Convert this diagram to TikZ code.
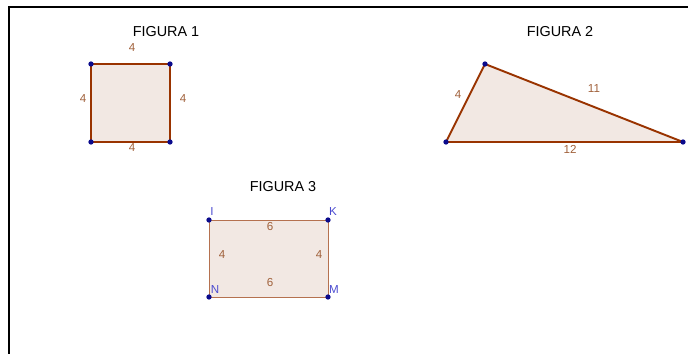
\documentclass[tikz,border=0pt]{standalone}
\usepackage{fontspec}
\setmainfont{Liberation Sans}
\definecolor{GeoBrown}{HTML}{993300}
\definecolor{GeoLightBrown}{HTML}{B5714F}
\definecolor{GeoFill}{HTML}{F2E8E3}
\definecolor{GeoLabel}{HTML}{A0603A}
\definecolor{GeoPoint}{HTML}{0A0A8C}
\definecolor{GeoName}{HTML}{4B4BD0}
\usetikzlibrary{positioning}
\tikzset{
    % Frame lines
    marco/.style={
        draw=black,
        line width=0.6pt
    },
    % Figure title
    titulo/.style={
        font=\fontsize{8.2}{9}\selectfont,
        text=black
    },
    % Thick polygon side
    lado/.style={
        draw=GeoBrown,
        fill=GeoFill,
        line width=1.1pt,
        line join=round
    },
    % Thin polygon side
    ladofino/.style={
        draw=GeoLightBrown,
        fill=GeoFill,
        line width=0.5pt
    },
    % Side length label
    medida/.style={
        font=\fontsize{6.6}{7}\selectfont,
        text=GeoLabel,
        inner sep=0pt
    },
    % Vertex dot
    punto/.style={
        circle,
        fill=GeoPoint,
        inner sep=0pt,
        minimum size=3pt
    },
    % Vertex name
    nombre/.style={
        font=\fontsize{6.6}{7}\selectfont,
        text=GeoName,
        inner sep=0pt
    }
}
\begin{document}
\begin{tikzpicture}[x=0.02cm, y=-0.02cm]
    \useasboundingbox (0,0) rectangle (688,354);
    \draw[marco] (9,354) -- (9,7) -- (688,7);

    % Figura 1
    \node[titulo] (tit1) at (166,32) {FIGURA 1};
    \coordinate (a1) at (91,64);
    \coordinate (a2) at (170,64);
    \coordinate (a3) at (170,142);
    \coordinate (a4) at (91,142);
    \draw[lado] (a1) -- (a2) -- (a3) -- (a4) -- cycle;
    \node[medida] (m1) at (132,48) {4};
    \node[medida] (m2) at (83,99) {4};
    \node[medida] (m3) at (183,99) {4};
    \node[medida] (m4) at (132,148) {4};
    \node[punto] (p1) at (a1) {};
    \node[punto] (p2) at (a2) {};
    \node[punto] (p3) at (a3) {};
    \node[punto] (p4) at (a4) {};

    % Figura 2
    \node[titulo] (tit2) at (560,32) {FIGURA 2};
    \coordinate (b1) at (446,142);
    \coordinate (b2) at (485,64);
    \coordinate (b3) at (683,142);
    \draw[lado] (b1) -- (b2) -- (b3) -- cycle;
    \node[medida] (n1) at (458,95) {4};
    \node[medida] (n2) at (594,89) {11};
    \node[medida] (n3) at (570,149) {12};
    \node[punto] (q1) at (b1) {};
    \node[punto] (q2) at (b2) {};
    \node[punto] (q3) at (b3) {};

    % Figura 3
    \node[titulo] (tit3) at (283,187) {FIGURA 3};
    \coordinate (I) at (209,220);
    \coordinate (K) at (328,220);
    \coordinate (M) at (328,297);
    \coordinate (N) at (209,297);
    \draw[ladofino] (I) -- (K) -- (M) -- (N) -- cycle;
    \node[medida] (r1) at (270,227) {6};
    \node[medida] (r2) at (222,255) {4};
    \node[medida] (r3) at (319,255) {4};
    \node[medida] (r4) at (270,283) {6};
    \node[punto] (pI) at (I) {};
    \node[punto] (pK) at (K) {};
    \node[punto] (pM) at (M) {};
    \node[punto] (pN) at (N) {};
    \node[nombre] (lI) at (212,212) {I};
    \node[nombre] (lK) at (333,212) {K};
    \node[nombre] (lN) at (215,290) {N};
    \node[nombre] (lM) at (334,290) {M};
\end{tikzpicture}
\end{document}
